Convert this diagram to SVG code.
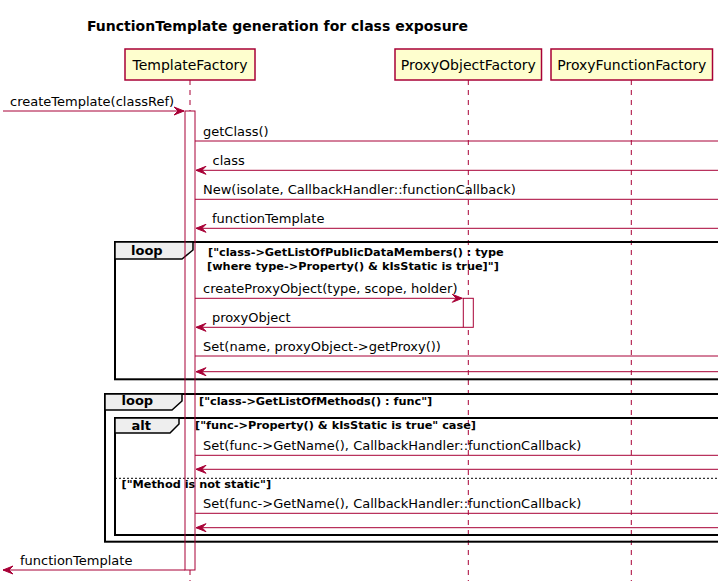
<svg xmlns="http://www.w3.org/2000/svg" width="718" height="581" viewBox="0 0 718 581">
<style>
  text { font-family: "DejaVu Sans", "Noto Sans", sans-serif; fill: #000000; }
  .title { font-size: 14px; font-weight: bold; }
  .pname { font-size: 14px; text-anchor: middle; }
  .msg { font-size: 13px; }
  .guard { font-size: 11.3px; font-weight: bold; }
  .kw { font-size: 13px; font-weight: bold; }
  .pbox { fill: #FEFECE; stroke: #A80036; stroke-width: 1.5; }
  .life { stroke: #A80036; stroke-width: 1; stroke-dasharray: 5,5; fill: none; }
  .actfill { fill: #FFFFFF; stroke: none; }
  .act { fill: none; stroke: #A80036; stroke-width: 1; }
  .arrow { stroke: #A80036; stroke-width: 1; fill: none; }
  .frame { fill: none; stroke: #000000; stroke-width: 2; }
  .tab { fill: #EEEEEE; stroke: #000000; stroke-width: 1.5; }
  .sep { stroke: #000000; stroke-width: 1; stroke-dasharray: 2,2; fill: none; }
</style>
<defs>
  <marker id="ah" markerUnits="userSpaceOnUse" markerWidth="14" markerHeight="12" viewBox="-2 -2 14 12" refX="10" refY="4" orient="auto">
    <path d="M0,0 L10,4 L0,8 L4,4 Z" fill="#A80036" stroke="#A80036" stroke-width="1"/>
  </marker>
</defs>
<rect x="0" y="0" width="718" height="581" fill="#FFFFFF"/>
<text class="title" x="87" y="30.5">FunctionTemplate generation for class exposure</text>

<g id="lifelines">
  <line class="life" x1="190" y1="80" x2="190" y2="581"/>
  <line class="life" x1="468.3" y1="80" x2="468.3" y2="581"/>
  <line class="life" x1="631.3" y1="80" x2="631.3" y2="581"/>
</g>

<g id="TemplateFactory">
  <rect class="pbox" x="125" y="49" width="130" height="31"/>
  <text class="pname" x="190" y="70">TemplateFactory</text>
</g>
<g id="ProxyObjectFactory">
  <rect class="pbox" x="395" y="49" width="146.5" height="31"/>
  <text class="pname" x="468.3" y="70">ProxyObjectFactory</text>
</g>
<g id="ProxyFunctionFactory">
  <rect class="pbox" x="551" y="49" width="161.5" height="31"/>
  <text class="pname" x="631.8" y="70">ProxyFunctionFactory</text>
</g>

<g id="activation-fills">
  <rect class="actfill" x="185" y="111" width="10" height="459"/>
  <rect class="actfill" x="463.3" y="298.3" width="10" height="29"/>
</g>

<g id="loop1">
  <rect class="frame" x="115" y="242" width="620" height="137.3"/>
  <polygon class="tab" points="115,242 193,242 193,250 182,259 115,259"/>
  <text class="kw" x="131" y="255">loop</text>
  <text class="guard" x="208" y="256">["class-&gt;GetListOfPublicDataMembers() : type</text>
  <text class="guard" x="207" y="270">[where type-&gt;Property() &amp; kIsStatic is true]"]</text>
</g>

<g id="loop2">
  <rect class="frame" x="105" y="394" width="630" height="147.7"/>
  <polygon class="tab" points="105,394 182,394 182,401 172,410 105,410"/>
  <text class="kw" x="121.5" y="404.5">loop</text>
  <text class="guard" x="199" y="404.5">["class-&gt;GetListOfMethods() : func"]</text>
</g>

<g id="alt">
  <rect class="frame" x="115" y="418" width="620" height="117"/>
  <polygon class="tab" points="115,418 179,418 179,424 170,433 115,433"/>
  <text class="kw" x="131.5" y="429.5">alt</text>
  <text class="guard" x="195" y="429">["func-&gt;Property() &amp; kIsStatic is true" case]</text>
  <line class="sep" x1="115" y1="478.3" x2="718" y2="478.3"/>
  <text class="guard" x="121.5" y="488">["Method is not static"]</text>
</g>

<g id="activations">
  <rect class="act" x="185" y="111" width="10" height="459"/>
  <rect class="act" x="463.3" y="298.3" width="10" height="29"/>
</g>

<g id="connectors">
  <line class="arrow" x1="3" y1="111" x2="184" y2="111" marker-end="url(#ah)"/>
  <text class="msg" x="10" y="106">createTemplate(classRef)</text>

  <line class="arrow" x1="195" y1="141" x2="718" y2="141"/>
  <text class="msg" x="203" y="136">getClass()</text>

  <line class="arrow" x1="718" y1="170.3" x2="196" y2="170.3" marker-end="url(#ah)"/>
  <text class="msg" x="212.5" y="165.3">class</text>

  <line class="arrow" x1="195" y1="199.3" x2="718" y2="199.3"/>
  <text class="msg" x="203" y="194.3">New(isolate, CallbackHandler::functionCallback)</text>

  <line class="arrow" x1="718" y1="228.3" x2="196" y2="228.3" marker-end="url(#ah)"/>
  <text class="msg" x="212" y="223.3">functionTemplate</text>

  <line class="arrow" x1="195" y1="298.3" x2="462.3" y2="298.3" marker-end="url(#ah)"/>
  <text class="msg" x="203" y="293.3">createProxyObject(type, scope, holder)</text>

  <line class="arrow" x1="463.3" y1="327.3" x2="196" y2="327.3" marker-end="url(#ah)"/>
  <text class="msg" x="212" y="322.3">proxyObject</text>

  <line class="arrow" x1="195" y1="356" x2="718" y2="356"/>
  <text class="msg" x="203" y="351">Set(name, proxyObject-&gt;getProxy())</text>

  <line class="arrow" x1="718" y1="371.7" x2="196" y2="371.7" marker-end="url(#ah)"/>

  <line class="arrow" x1="195" y1="455.3" x2="718" y2="455.3"/>
  <text class="msg" x="203" y="450.3">Set(func-&gt;GetName(), CallbackHandler::functionCallback)</text>

  <line class="arrow" x1="718" y1="469.3" x2="196" y2="469.3" marker-end="url(#ah)"/>

  <line class="arrow" x1="195" y1="513.3" x2="718" y2="513.3"/>
  <text class="msg" x="203" y="508.3">Set(func-&gt;GetName(), CallbackHandler::functionCallback)</text>

  <line class="arrow" x1="718" y1="527.7" x2="196" y2="527.7" marker-end="url(#ah)"/>

  <line class="arrow" x1="185" y1="570" x2="3" y2="570" marker-end="url(#ah)"/>
  <text class="msg" x="20" y="565">functionTemplate</text>
</g>
</svg>
